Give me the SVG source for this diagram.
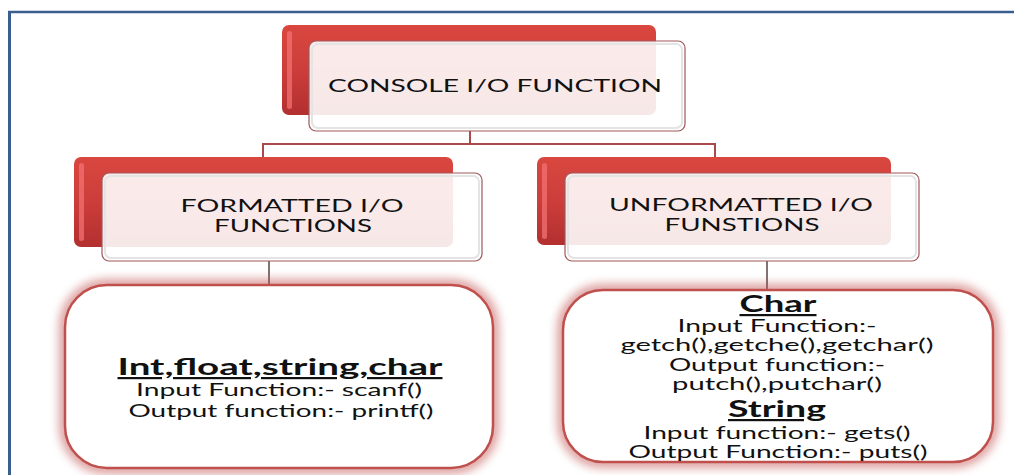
<svg xmlns="http://www.w3.org/2000/svg" width="1014" height="475" viewBox="0 0 1014 475">
<defs>
<style>
.t{font-family:Lato,"Open Sans","Liberation Sans",sans-serif;fill:#111;text-anchor:middle}
.h{font-size:18px}
.b{font-size:16.5px}
.hd{font-size:22px;font-weight:bold;text-decoration:underline}
.back{fill:url(#redg)}
.hl{fill:#f27272;opacity:0.75}
.front{fill:#fff;fill-opacity:0.89;stroke:#a0585a;stroke-width:1.2}
.inner{fill:none;stroke:#e4e4e4;stroke-width:2}
.conn{stroke:#a84a4a;stroke-width:2;fill:none}
.conn2{stroke:#5a4444;stroke-width:1.5;fill:none}
.glow{fill:none;stroke:#c0504d;stroke-width:12;opacity:0.55}
.box{fill:#fff;stroke:#c0504d;stroke-width:2.5}
</style>
<linearGradient id="redg" x1="0" y1="0" x2="0" y2="1">
<stop offset="0" stop-color="#d9473f"/>
<stop offset="0.5" stop-color="#cc3d3b"/>
<stop offset="1" stop-color="#b2302f"/>
</linearGradient>
<filter id="blur" x="-10%" y="-10%" width="120%" height="120%">
<feGaussianBlur stdDeviation="5"/>
</filter>
</defs>
<rect x="0" y="0" width="1014" height="475" fill="#fff"/>
<g id="frame">
<line x1="9.5" y1="11" x2="9.5" y2="475" stroke="#3a5f8f" stroke-width="3"/>
<line x1="8" y1="12" x2="1014" y2="12" stroke="#3a5f8f" stroke-width="2.5"/>
</g>
<g id="connectors">
<path class="conn" d="M470 131 V144 M263 144 H715 M263 143 V158 M715 143 V158"/>
<path class="conn2" d="M269 261 V286 M767 261 V291"/>
</g>
<g id="console">
<rect class="back" x="282" y="25" width="374" height="90" rx="7"/>
<rect class="hl" x="287" y="31" width="5" height="78" rx="2.5"/>
<rect class="front" x="309" y="41" width="376" height="90" rx="7"/>
<rect class="inner" x="312" y="44" width="370" height="84" rx="6"/>
<text class="t h" x="495" y="92" textLength="334" lengthAdjust="spacingAndGlyphs">CONSOLE I/O FUNCTION</text>
</g>
<g id="formatted">
<rect class="back" x="74" y="157" width="379" height="90" rx="7"/>
<rect class="hl" x="79" y="163" width="5" height="78" rx="2.5"/>
<rect class="front" x="102" y="173" width="380" height="88" rx="7"/>
<rect class="inner" x="105" y="176" width="374" height="82" rx="6"/>
<text class="t h" x="292" y="212" textLength="223" lengthAdjust="spacingAndGlyphs">FORMATTED I/O</text>
<text class="t h" x="293" y="232" textLength="158" lengthAdjust="spacingAndGlyphs">FUNCTIONS</text>
</g>
<g id="unformatted">
<rect class="back" x="537" y="157" width="354" height="88" rx="7"/>
<rect class="hl" x="542" y="163" width="5" height="76" rx="2.5"/>
<rect class="front" x="565" y="173" width="354" height="88" rx="7"/>
<rect class="inner" x="568" y="176" width="348" height="82" rx="6"/>
<text class="t h" x="741" y="211" textLength="264" lengthAdjust="spacingAndGlyphs">UNFORMATTED I/O</text>
<text class="t h" x="742" y="231" textLength="155" lengthAdjust="spacingAndGlyphs">FUNSTIONS</text>
</g>
<g id="formatted-detail">
<rect class="glow" x="65" y="285" width="428" height="183" rx="42" filter="url(#blur)"/>
<rect class="box" x="65" y="285" width="428" height="183" rx="42"/>
<text class="t hd" x="280" y="375" textLength="325" lengthAdjust="spacingAndGlyphs">Int,float,string,char</text>
<text class="t b" x="279" y="396" textLength="286" lengthAdjust="spacingAndGlyphs">Input Function:- scanf()</text>
<text class="t b" x="281" y="417" textLength="305" lengthAdjust="spacingAndGlyphs">Output function:- printf()</text>
</g>
<g id="unformatted-detail">
<rect class="glow" x="563" y="290" width="430" height="172" rx="40" filter="url(#blur)"/>
<rect class="box" x="563" y="290" width="430" height="172" rx="40"/>
<text class="t hd" x="778" y="312" textLength="77" lengthAdjust="spacingAndGlyphs">Char</text>
<text class="t b" x="777" y="332" textLength="199" lengthAdjust="spacingAndGlyphs">Input Function:-</text>
<text class="t b" x="777" y="351" textLength="313" lengthAdjust="spacingAndGlyphs">getch(),getche(),getchar()</text>
<text class="t b" x="777" y="371" textLength="216" lengthAdjust="spacingAndGlyphs">Output function:-</text>
<text class="t b" x="777" y="390" textLength="210" lengthAdjust="spacingAndGlyphs">putch(),putchar()</text>
<text class="t hd" x="777" y="417" textLength="98" lengthAdjust="spacingAndGlyphs">String</text>
<text class="t b" x="777" y="439" textLength="267" lengthAdjust="spacingAndGlyphs">Input function:- gets()</text>
<text class="t b" x="778" y="458" textLength="299" lengthAdjust="spacingAndGlyphs">Output Function:- puts()</text>
</g>
</svg>
